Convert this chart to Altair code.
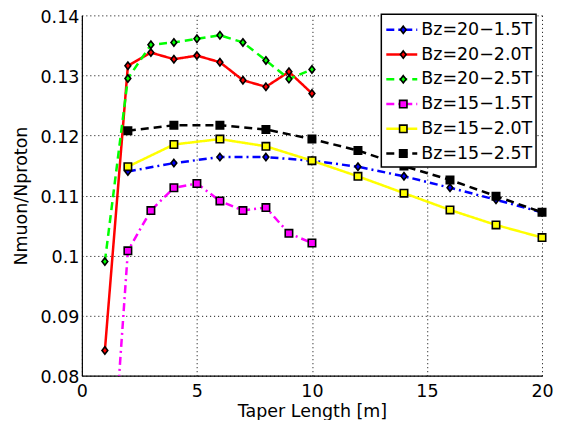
import altair as alt
import pandas as pd

series = ["Bz=20−1.5T", "Bz=20−2.0T", "Bz=20−2.5T", "Bz=15−1.5T", "Bz=15−2.0T", "Bz=15−2.5T"]
colors = ["#0000ff", "#ff0000", "#00ff00", "#ff00ff", "#ffff00", "#000000"]
dashes = [[8, 4, 2, 4], [1, 0], [8, 5], [8, 4, 2, 4], [1, 0], [8, 5]]
DIAMOND = "M0,-1L0.78,0L0,1L-0.78,0Z"
shapes = [DIAMOND, DIAMOND, DIAMOND, "square", "square", "square"]

x_full = [1, 2, 3, 4, 5, 6, 7, 8, 9, 10]
x_even = [2, 4, 6, 8, 10, 12, 14, 16, 18, 20]

b20_15 = [0.1140, 0.1154, 0.1164, 0.1164, 0.1158, 0.1148, 0.1132, 0.1113, 0.1093, 0.1072]
b20_20 = [0.0842, 0.1316, 0.1338, 0.1327, 0.1333, 0.1322, 0.1292, 0.1281, 0.1306, 0.1270]
b20_25 = [0.0990, 0.1295, 0.1351, 0.1355, 0.1361, 0.1367, 0.1355, 0.1325, 0.1294, 0.1310]
b15_15 = [0.0460, 0.1008, 0.1075, 0.1113, 0.1120, 0.1091, 0.1075, 0.1080, 0.1037, 0.1021]
b15_20 = [0.1148, 0.1185, 0.1194, 0.1182, 0.1158, 0.1132, 0.1104, 0.1076, 0.1051, 0.1030]
b15_25 = [0.1208, 0.1217, 0.1217, 0.1210, 0.1194, 0.1175, 0.1149, 0.1126, 0.1099, 0.1072]

x_ticks = [0, 5, 10, 15, 20]
y_ticks = [0.08, 0.09, 0.10, 0.11, 0.12, 0.13, 0.14]

xs = [x_even, x_full, x_full, x_full, x_even, x_even]
ys = [b20_15, b20_20, b20_25, b15_15, b15_20, b15_25]
rows = []
for name, xv, yv in zip(series, xs, ys):
    for a, b in zip(xv, yv):
        rows.append({"series": name, "x": a, "y": b})
df = pd.DataFrame(rows)

FONT = "DejaVu Sans"
color_scale = alt.Scale(domain=series, range=colors)
dash_scale = alt.Scale(domain=series, range=dashes)
shape_scale = alt.Scale(domain=series, range=shapes)

xenc = alt.X("x:Q", scale=alt.Scale(domain=[0, 20], nice=False),
             axis=alt.Axis(values=x_ticks, title="Taper Length [m]", labelPadding=7, titlePadding=2,
                           labelFlush=False, labelOverlap=False))
yenc = alt.Y("y:Q", scale=alt.Scale(domain=[0.08, 0.14], nice=False, zero=False),
             axis=alt.Axis(values=y_ticks, title="Nmuon/Nproton", labelExpr="format(datum.value, '.2~f')",
                           labelPadding=3, titlePadding=9, labelOffset=2,
                           labelFlush=False, labelOverlap=False))

base = alt.Chart(df)
lines = base.mark_line(strokeWidth=2.5, clip=True).encode(
    x=xenc, y=yenc,
    color=alt.Color("series:N", scale=color_scale, legend=None),
    strokeDash=alt.StrokeDash("series:N", scale=dash_scale, legend=None),
    order=alt.Order("x:Q"),
)
points = base.transform_filter("datum.y >= 0.08").mark_point(
    filled=True, stroke="black", strokeWidth=1.6, size=55, opacity=1
).encode(
    x=xenc, y=yenc,
    fill=alt.Fill("series:N", scale=color_scale, legend=None),
    shape=alt.Shape("series:N", scale=shape_scale, legend=None),
)
main = alt.layer(lines, points)

leg_df = pd.DataFrame({"series": series})
ly = alt.Y("series:N", sort=series, scale=alt.Scale(type="point", range=[14.5, 138.5], padding=0), axis=None)
box = alt.Chart(pd.DataFrame({"a": [0]})).mark_rect(fill="white", stroke="black", strokeWidth=1.5).encode(
    x=alt.value(300), x2=alt.value(455), y=alt.value(-1), y2=alt.value(152)
)
lrule = alt.Chart(leg_df).mark_rule(strokeWidth=2.5).encode(
    x=alt.value(305), x2=alt.value(336), y=ly,
    color=alt.Color("series:N", scale=color_scale, legend=None),
    strokeDash=alt.StrokeDash("series:N", scale=dash_scale, legend=None),
)
lpts = alt.Chart(leg_df).mark_point(filled=True, stroke="black", strokeWidth=1.6, size=55, opacity=1).encode(
    x=alt.value(322), y=ly,
    fill=alt.Fill("series:N", scale=color_scale, legend=None),
    shape=alt.Shape("series:N", scale=shape_scale, legend=None),
)
ltext = alt.Chart(leg_df).mark_text(align="left", baseline="middle", font=FONT, fontSize=17.5, color="black").encode(
    x=alt.value(340), y=ly, text="series:N"
)
legend = alt.layer(box, lrule, lpts, ltext)

chart = alt.layer(main, legend).resolve_scale(y="independent").properties(
    width=461, height=361,
    autosize=alt.AutoSizeParams(type="none"),
    padding={"left": 74, "top": 7, "right": 12, "bottom": 44},
    background="white",
).configure_view(stroke=None).configure_axis(
    labelFont=FONT, titleFont=FONT, labelFontSize=17.5, titleFontSize=17.5,
    titleFontWeight="normal", labelColor="black", titleColor="black",
    domainColor="black", domainWidth=1.2, ticks=False,
    grid=True, gridColor="black", gridDash=[1, 3], gridOpacity=1, gridWidth=1,
)

chart.save("out.html", embed_options={"renderer": "svg", "actions": False})
